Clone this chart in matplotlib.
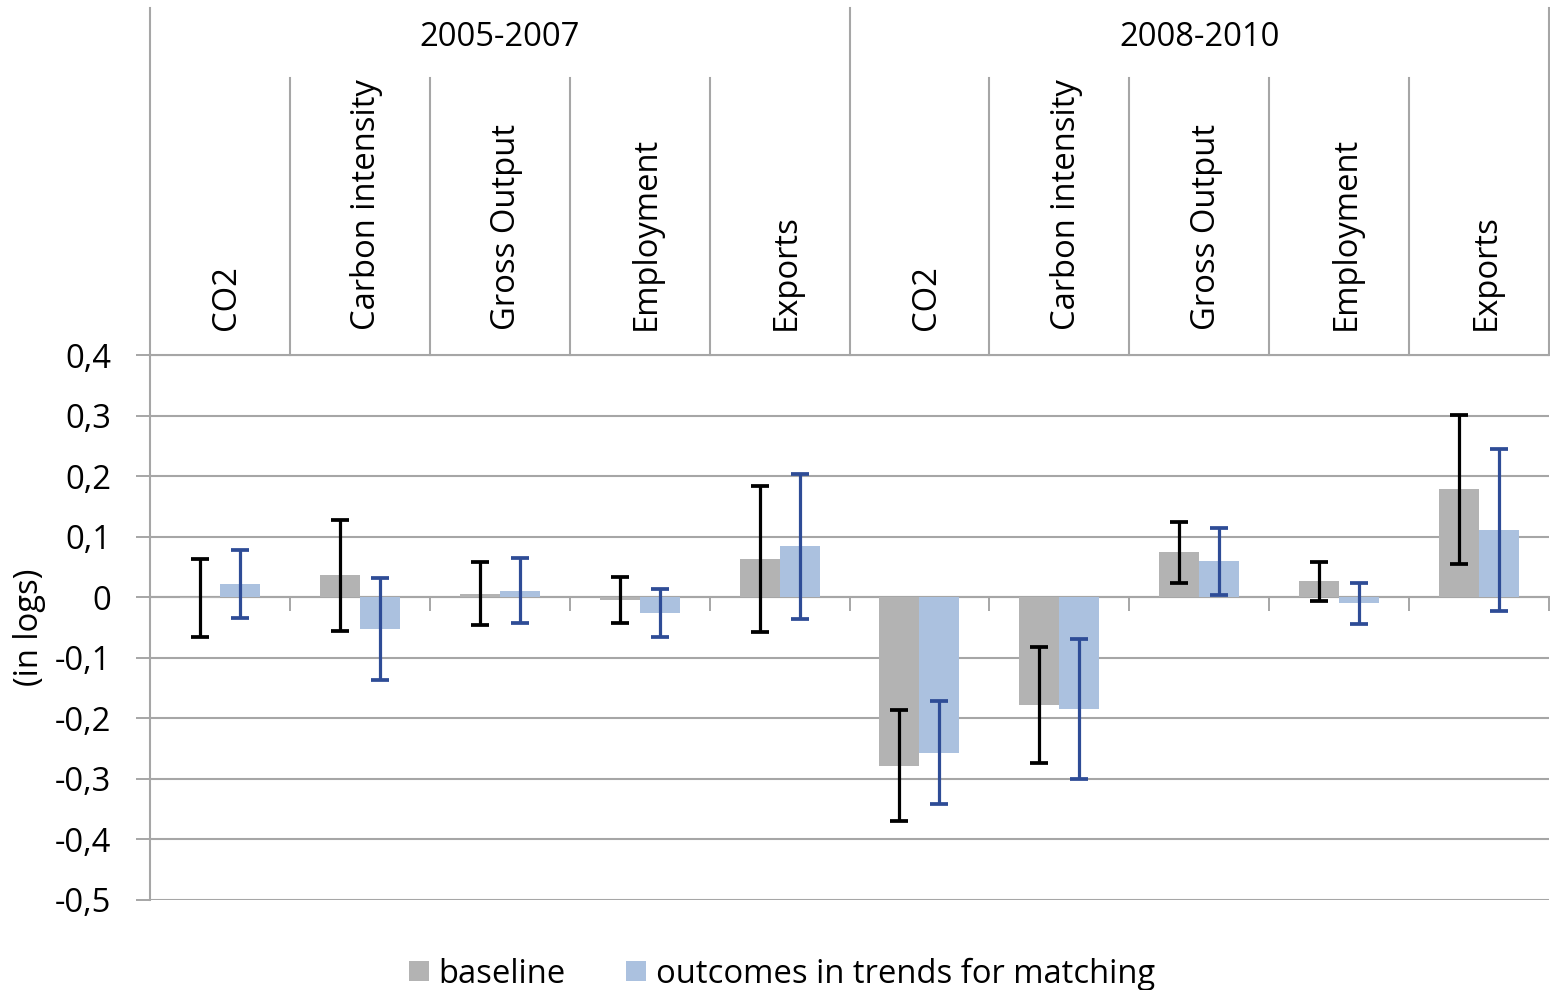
import matplotlib
matplotlib.use("Agg")
import matplotlib.pyplot as plt
from matplotlib.ticker import FuncFormatter, FixedLocator
from matplotlib.transforms import blended_transform_factory
import numpy as np

plt.rcParams['font.family'] = ['Open Sans', 'DejaVu Sans']

# ---- data -------------------------------------------------------------
periods = ["2005-2007", "2008-2010"]
outcomes = ["CO2", "Carbon intensity", "Gross Output", "Employment", "Exports"]

baseline = [-0.001, 0.036, 0.006, -0.004, 0.063,
            -0.278, -0.178, 0.074, 0.026, 0.178]
baseline_ci = [0.064, 0.091, 0.052, 0.038, 0.120,
               0.091, 0.096, 0.050, 0.032, 0.123]

matching = [0.022, -0.052, 0.011, -0.026, 0.084,
            -0.257, -0.185, 0.059, -0.010, 0.111]
matching_ci = [0.056, 0.084, 0.053, 0.039, 0.120,
               0.085, 0.116, 0.055, 0.034, 0.134]

yticks = [0.4, 0.3, 0.2, 0.1, 0.0, -0.1, -0.2, -0.3, -0.4, -0.5]

# ---- style ------------------------------------------------------------
GRAY = "#B3B3B3"
LIGHTBLUE = "#ABC1DF"
ERR_BLUE = "#2E4C96"
GRID = "#A6A6A6"
FS = 23.6

W, H = 1550, 990
fig = plt.figure(figsize=(W / 100, H / 100), dpi=100)
ax = fig.add_axes([150 / W, 1 - 900 / H, 1399 / W, 545 / H])

n = len(baseline)
x = np.arange(n) + 0.5
bw = 40 / 140

b1 = ax.bar(x - bw / 2, baseline, bw, color=GRAY, zorder=3,
            label="baseline")
b2 = ax.bar(x + bw / 2, matching, bw, color=LIGHTBLUE, zorder=3,
            label="outcomes in trends for matching")
ax.errorbar(x - bw / 2, baseline, yerr=baseline_ci, fmt="none",
            ecolor="black", elinewidth=2.3, capsize=6.5, capthick=2.7,
            zorder=4)
ax.errorbar(x + bw / 2, matching, yerr=matching_ci, fmt="none",
            ecolor=ERR_BLUE, elinewidth=2.3, capsize=6.5, capthick=2.7,
            zorder=4)

ax.set_xlim(0, n)
ax.set_ylim(-0.5, 0.4)

# y axis: comma decimals, gridlines
ax.yaxis.set_major_locator(FixedLocator(yticks))


def comma_fmt(v, pos):
    if abs(v) < 1e-9:
        return "0"
    return f"{v:.1f}".replace(".", ",")


ax.yaxis.set_major_formatter(FuncFormatter(comma_fmt))
ax.tick_params(axis="y", length=10, width=1.4, color=GRID, pad=18,
               labelsize=FS)
ax.yaxis.grid(True, color=GRID, linewidth=1.5, zorder=0)
ax.set_axisbelow(True)

# horizontal category axis at zero, with tick marks between categories
for s in ("top", "right"):
    ax.spines[s].set_visible(False)
ax.spines["bottom"].set_position(("data", 0))
ax.spines["bottom"].set_color(GRID)
ax.spines["bottom"].set_linewidth(1.5)
ax.spines["left"].set_color(GRID)
ax.spines["left"].set_linewidth(1.5)
ax.xaxis.set_major_locator(FixedLocator(np.arange(n + 1)))
ax.tick_params(axis="x", direction="out", length=10, width=1.4, color=GRID,
               labelbottom=False)

ax.set_ylabel("(in logs)", fontsize=FS)
ax.yaxis.set_label_coords(-0.074, 0.5)

# ---- multi-level category header above the plot -----------------------
tr = blended_transform_factory(ax.transData, ax.transAxes)
y_top = (900 - 8) / 545
y_mid = (900 - 78) / 545
line_kw = dict(color=GRID, linewidth=1.5, transform=tr, clip_on=False)

ax.plot([0, n], [1, 1], **line_kw)
for k in range(n + 1):
    top = y_top if k % len(outcomes) == 0 else y_mid
    ax.plot([k, k], [1, top], **line_kw)

for i, lab in enumerate(outcomes * len(periods)):
    ax.text(x[i] + 0.05, (900 - 330) / 545, lab, rotation=90,
            rotation_mode="anchor", ha="left", va="center", fontsize=FS,
            transform=tr)

for j, p in enumerate(periods):
    ax.text(len(outcomes) * (j + 0.5), (900 - 37) / 545, p, ha="center",
            va="center", fontsize=FS, transform=tr)

# ---- legend ------------------------------------------------------------
fig.legend(handles=[b1, b2], loc="center", ncol=2, frameon=False,
           bbox_to_anchor=(782 / W, 1 - 974 / H), fontsize=FS,
           handlelength=0.6, handleheight=0.6, handletextpad=0.3,
           columnspacing=1.85)

fig.savefig("out.png", dpi=100)
